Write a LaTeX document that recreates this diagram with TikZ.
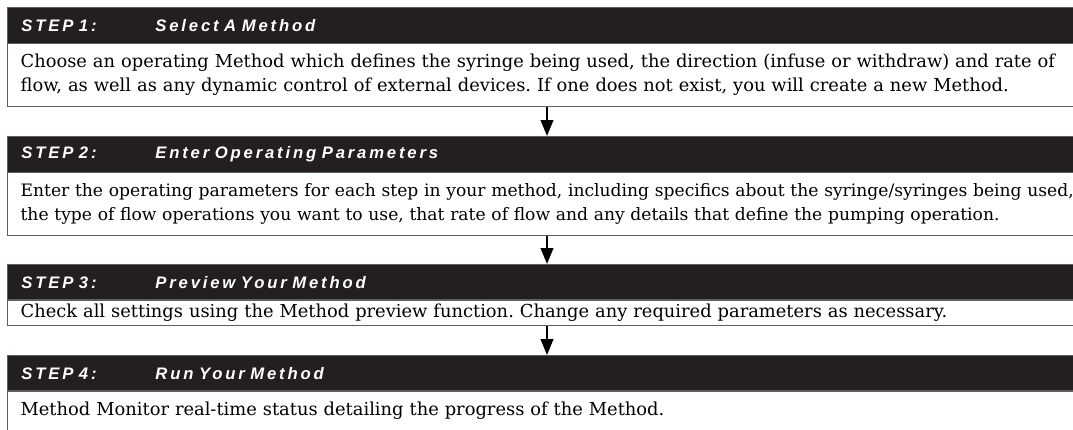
\documentclass[tikz,border=0pt]{standalone}
\usepackage{fontspec}
\setmainfont{DejaVu Serif}
\newfontfamily\headfont[LetterSpace=17,WordSpace=1.8]{Liberation Sans}
\usetikzlibrary{arrows.meta}
\definecolor{barblack}{RGB}{35,31,32}
\definecolor{framegray}{RGB}{95,95,95}
\tikzset{
  headbar/.style={draw=framegray,line width=0.6pt,fill=barblack,text=white,anchor=north west,
    inner xsep=10.5pt,inner ysep=0pt,minimum height=27pt,text width=830pt,align=left,
    font=\headfont\bfseries\itshape\fontsize{12.5}{14}\selectfont},
  stepbox/.style={draw=framegray,line width=0.9pt,anchor=north west,
    inner xsep=9.75pt,inner ysep=0pt,text width=831.5pt,align=left,
    font=\frenchspacing\fontsize{13.4}{18}\selectfont},
  flowarrow/.style={line width=1.5pt,-{Triangle[length=12pt,width=9.5pt]}}
}
\newcommand{\steptitle}[2]{\makebox[100.5pt][l]{#1}#2}
\begin{document}
\begin{tikzpicture}[x=0.75pt,y=0.75pt,yscale=-1,xscale=1]
\useasboundingbox (0,0) rectangle (1073,429);
\clip (0,0) rectangle (1073,429);

% Step 1
\node[headbar] (h1) at (7,7) {\steptitle{STEP 1:}{Select A Method}};
\node[stepbox,minimum height=47.25pt] (b1) at (7,43) {Choose an operating Method which defines the syringe being used, the direction (infuse or withdraw) and rate of\\flow, as well as any dynamic control of external devices. If one does not exist, you will create a new Method.};

% Step 2
\node[headbar] (h2) at (7,136) {\steptitle{STEP 2:}{Enter Operating Parameters}};
\node[stepbox,minimum height=47.25pt,font=\frenchspacing\fontsize{12.85}{18}\selectfont] (b2) at (7,172) {Enter the operating parameters for each step in your method, including specifics about the syringe/syringes being used,\\the type of flow operations you want to use, that rate of flow and any details that define the pumping operation.};

% Step 3
\node[headbar] (h3) at (7,264) {\steptitle{STEP 3:}{Preview Your Method}};
\node[stepbox,minimum height=19.5pt] (b3) at (7,299) {Check all settings using the Method preview function. Change any required parameters as necessary.};

% Step 4
\node[headbar] (h4) at (7,355) {\steptitle{STEP 4:}{Run Your Method}};
\node[stepbox,minimum height=45pt,text depth=18pt] (b4) at (7,390) {Method Monitor real-time status detailing the progress of the Method.};

% arrows (the boxes run off the right edge, so measure from their left side)
\draw[flowarrow] ([xshift=405pt]b1.south west) -- ([xshift=405pt]h2.north west);
\draw[flowarrow] ([xshift=405pt]b2.south west) -- ([xshift=405pt]h3.north west);
\draw[flowarrow] ([xshift=405pt]b3.south west) -- ([xshift=405pt]h4.north west);
\end{tikzpicture}
\end{document}
